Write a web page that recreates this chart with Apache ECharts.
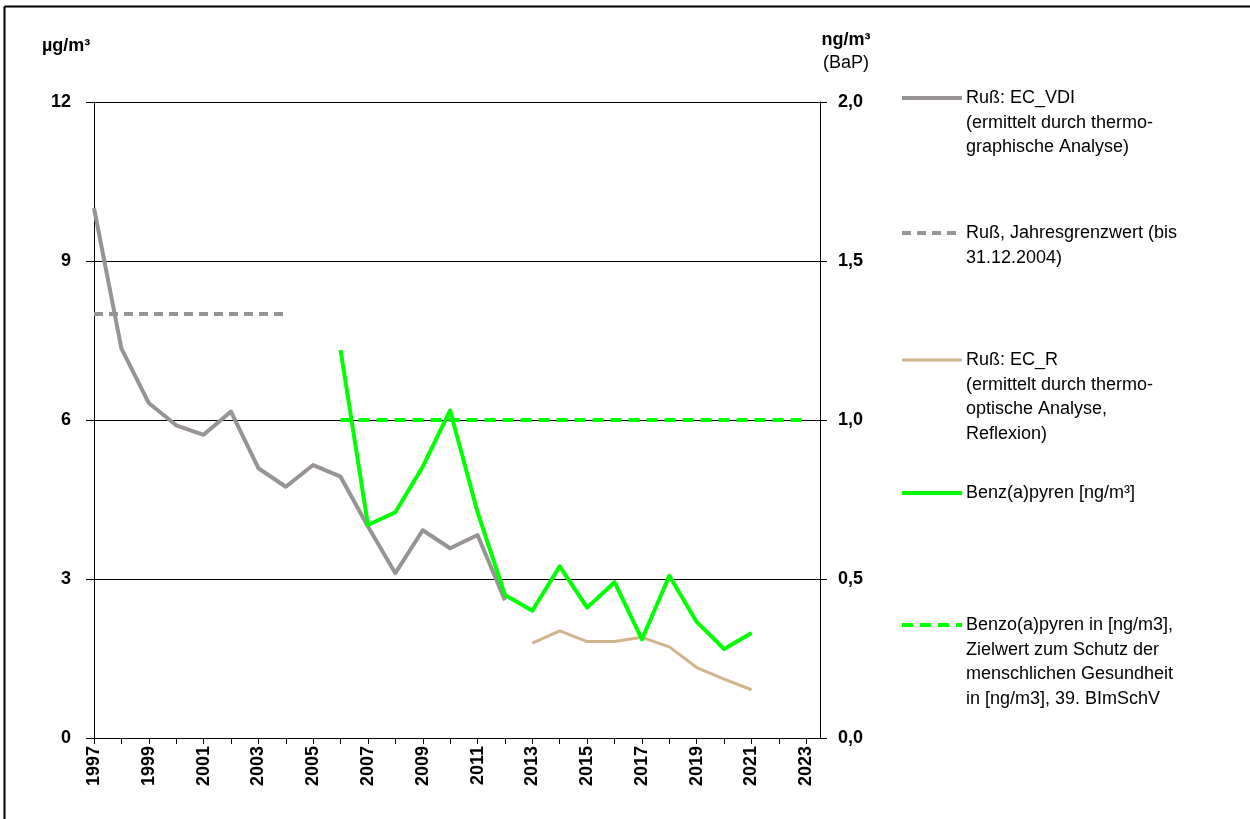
<!DOCTYPE html>
<html>
<head>
<meta charset="utf-8">
<script src="https://cdn.jsdelivr.net/npm/echarts@6/dist/echarts.min.js"></script>
<style>
  html, body { margin: 0; padding: 0; background: #fff; }
  #main { width: 1250px; height: 819px; }
</style>
</head>
<body>
<div id="main"></div>
<script>
// Jahre
const years = [1997, 1998, 1999, 2000, 2001, 2002, 2003, 2004, 2005, 2006, 2007, 2008, 2009,
  2010, 2011, 2012, 2013, 2014, 2015, 2016, 2017, 2018, 2019, 2020, 2021];
// Ruß EC_VDI (µg/m³), 1997-2012
const ecVdi = [10.0, 7.35, 6.32, 5.9, 5.72, 6.16, 5.09, 4.74, 5.15, 4.93, 3.99, 3.11, 3.92,
  3.58, 3.83, 2.6];
// Ruß EC_R (µg/m³), 2013-2021
const ecRYears = [2013, 2014, 2015, 2016, 2017, 2018, 2019, 2020, 2021];
const ecR = [1.79, 2.02, 1.82, 1.82, 1.9, 1.72, 1.33, 1.11, 0.91];
// Benz(a)pyren (ng/m³), 2006-2021
const bapYears = [2006, 2007, 2008, 2009, 2010, 2011, 2012, 2013, 2014, 2015, 2016, 2017,
  2018, 2019, 2020, 2021];
const bap = [1.22, 0.67, 0.71, 0.853, 1.03, 0.71, 0.45, 0.4, 0.54, 0.41, 0.49, 0.31, 0.51,
  0.365, 0.28, 0.33];
// Grenz- / Zielwerte
const rußGrenzYears = [1997, 2004];
const rußGrenz = [8, 8];
const bapZielYears = [2006, 2023];
const bapZiel = [1, 1];

const pairs = (xs, ys) => ys.map((v, i) => [xs[i], v]);

const font = '"Liberation Sans", Arial, sans-serif';

const myChart = echarts.init(document.getElementById('main'));

// Legende rechts (Linie + mehrzeiliger Text)
const legendItems = [
  { y: 98, color: '#979397', dash: null, width: 4, text: 'Ruß: EC_VDI\n(ermittelt durch thermo-\ngraphische Analyse)' },
  { y: 233, color: '#979397', dash: [9, 6], width: 4, text: 'Ruß, Jahresgrenzwert (bis\n31.12.2004)' },
  { y: 360, color: '#d2b48c', dash: null, width: 3, text: 'Ruß: EC_R\n(ermittelt durch thermo-\noptische Analyse,\nReflexion)' },
  { y: 493, color: '#00ff00', dash: null, width: 4, text: 'Benz(a)pyren [ng/m³]' },
  { y: 625, color: '#00ff00', dash: [11, 7], width: 4, text: 'Benzo(a)pyren in [ng/m3],\nZielwert zum Schutz der\nmenschlichen Gesundheit\nin [ng/m3], 39. BImSchV' }
];

const graphics = [];
legendItems.forEach(function (it) {
  graphics.push({
    type: 'line',
    shape: { x1: 902, y1: it.y, x2: 962, y2: it.y },
    style: { stroke: it.color, lineWidth: it.width, lineDash: it.dash }
  });
  graphics.push({
    type: 'text',
    x: 966,
    y: it.y - 12,
    style: { text: it.text, font: '18px ' + font, fill: '#000', lineHeight: 24.5 }
  });
});
// Einheiten
graphics.push({ type: 'text', x: 42, y: 37, style: { text: 'µg/m³', font: 'bold 18px ' + font, fill: '#000' } });
graphics.push({ type: 'text', x: 846, y: 31, style: { text: 'ng/m³', font: 'bold 18px ' + font, fill: '#000', align: 'center' } });
graphics.push({ type: 'text', x: 846, y: 54, style: { text: '(BaP)', font: '18px ' + font, fill: '#000', align: 'center' } });
// Rahmen oben / links
graphics.push({ type: 'line', shape: { x1: 4.5, y1: 6.5, x2: 1250, y2: 6.5 }, style: { stroke: '#000', lineWidth: 2 } });
graphics.push({ type: 'line', shape: { x1: 4.5, y1: 6.5, x2: 4.5, y2: 819 }, style: { stroke: '#000', lineWidth: 2 } });

const option = {
  animation: false,
  backgroundColor: '#fff',
  grid: { left: 94, right: 430, top: 102, bottom: 81 },
  xAxis: {
    type: 'value',
    min: 1997,
    max: 2023.5,
    interval: 1,
    axisLine: { onZero: false, lineStyle: { color: '#000', width: 1 } },
    axisTick: { show: true, length: 6, lineStyle: { color: '#000' } },
    splitLine: { show: false },
    axisLabel: {
      rotate: 90,
      margin: 8,
      color: '#000',
      fontFamily: font,
      fontWeight: 'bold',
      fontSize: 18,
      showMaxLabel: false,
      formatter: function (v) {
        return (v % 2 === 1 && v <= 2023) ? String(v) : '';
      }
    }
  },
  yAxis: [
    {
      type: 'value',
      min: 0,
      max: 12,
      interval: 3,
      axisLine: { show: true, lineStyle: { color: '#000' } },
      axisTick: { show: true, length: 8, lineStyle: { color: '#000' } },
      splitLine: { show: true, lineStyle: { color: '#000', width: 1 } },
      axisLabel: { margin: 23, color: '#000', fontFamily: font, fontWeight: 'bold', fontSize: 18 }
    },
    {
      type: 'value',
      min: 0,
      max: 2,
      interval: 0.5,
      position: 'right',
      axisLine: { show: true, lineStyle: { color: '#000' } },
      axisTick: { show: true, length: 7, lineStyle: { color: '#000' } },
      splitLine: { show: false },
      axisLabel: {
        margin: 18,
        color: '#000',
        fontFamily: font,
        fontWeight: 'bold',
        fontSize: 18,
        formatter: function (v) { return v.toFixed(1).replace('.', ','); }
      }
    }
  ],
  series: [
    {
      name: 'Ruß, Jahresgrenzwert',
      type: 'line',
      symbol: 'none',
      data: pairs(rußGrenzYears, rußGrenz),
      lineStyle: { color: '#979397', width: 4, type: [9, 6] }
    },
    {
      name: 'Ruß: EC_VDI',
      type: 'line',
      symbol: 'none',
      data: pairs(years, ecVdi),
      lineStyle: { color: '#979397', width: 4, join: 'round' }
    },
    {
      name: 'Ruß: EC_R',
      type: 'line',
      symbol: 'none',
      data: pairs(ecRYears, ecR),
      lineStyle: { color: '#d2b48c', width: 3, join: 'round' }
    },
    {
      name: 'Benzo(a)pyren Zielwert',
      type: 'line',
      yAxisIndex: 1,
      symbol: 'none',
      data: pairs(bapZielYears, bapZiel),
      lineStyle: { color: '#00ff00', width: 4, type: [11, 7] }
    },
    {
      name: 'Benz(a)pyren',
      type: 'line',
      yAxisIndex: 1,
      symbol: 'none',
      data: pairs(bapYears, bap),
      lineStyle: { color: '#00ff00', width: 4, join: 'round' }
    }
  ],
  graphic: graphics
};

myChart.setOption(option);
</script>
</body>
</html>
